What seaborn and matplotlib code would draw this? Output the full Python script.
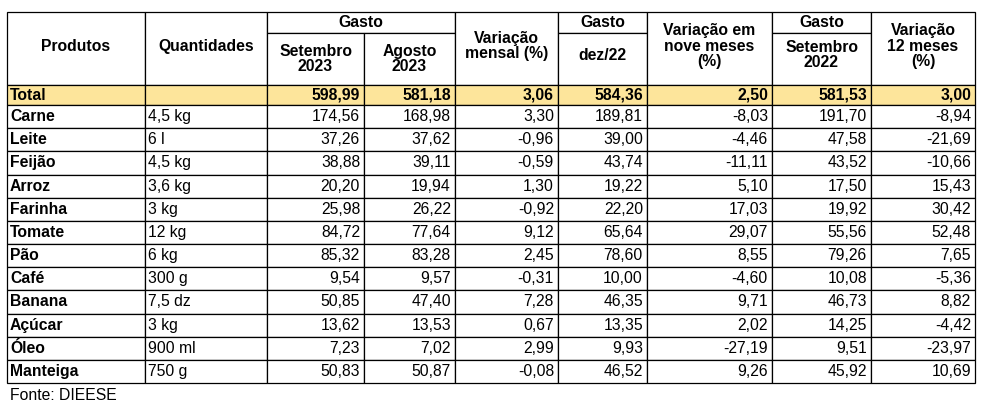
import matplotlib
matplotlib.use("Agg")
import matplotlib.pyplot as plt
import seaborn as sns
from matplotlib.patches import Rectangle

sns.set_theme(style="white")
plt.rcParams["font.family"] = "Liberation Sans"

produtos = ["Carne", "Leite", "Feijão", "Arroz", "Farinha", "Tomate", "Pão", "Café",
            "Banana", "Açúcar", "Óleo", "Manteiga"]
quantidades = ["4,5 kg", "6 l", "4,5 kg", "3,6 kg", "3 kg", "12 kg", "6 kg", "300 g",
               "7,5 dz", "3 kg", "900 ml", "750 g"]
set23 = ["174,56", "37,26", "38,88", "20,20", "25,98", "84,72", "85,32", "9,54", "50,85", "13,62", "7,23", "50,83"]
ago23 = ["168,98", "37,62", "39,11", "19,94", "26,22", "77,64", "83,28", "9,57", "47,40", "13,53", "7,02", "50,87"]
var_mensal = ["3,30", "-0,96", "-0,59", "1,30", "-0,92", "9,12", "2,45", "-0,31", "7,28", "0,67", "2,99", "-0,08"]
dez22 = ["189,81", "39,00", "43,74", "19,22", "22,20", "65,64", "78,60", "10,00", "46,35", "13,35", "9,93", "46,52"]
var_9m = ["-8,03", "-4,46", "-11,11", "5,10", "17,03", "29,07", "8,55", "-4,60", "9,71", "2,02", "-27,19", "9,26"]
set22 = ["191,70", "47,58", "43,52", "17,50", "19,92", "55,56", "79,26", "10,08", "46,73", "14,25", "9,51", "45,92"]
var_12m = ["-8,94", "-21,69", "-10,66", "15,43", "30,42", "52,48", "7,65", "-5,36", "8,82", "-4,42", "-23,97", "10,69"]
total = ["Total", "", "598,99", "581,18", "3,06", "584,36", "2,50", "581,53", "3,00"]

W, H = 984, 417
fig = plt.figure(figsize=(W / 100, H / 100), dpi=100)
ax = fig.add_axes([0, 0, 1, 1])
ax.set_xlim(0, W)
ax.set_ylim(H, 0)
ax.axis("off")

xs = [7, 145, 267, 364, 455, 558, 647, 772, 871, 975]
y0, y1, y2, y3 = 12, 33, 85, 105
ybot = 383
rh = (ybot - y3) / len(produtos)
lw = 0.9
fs = 11.3

def rect(x0, ya, x1, yb, fc="white"):
    ax.add_patch(Rectangle((x0, ya), x1 - x0, yb - ya, facecolor=fc, edgecolor="black", lw=lw))

def txt(x, y, s, ha="center", bold=True):
    ax.text(x, y, s, ha=ha, va="center", fontsize=fs, fontweight="bold" if bold else "normal",
            color="black", linespacing=1.05)

rect(xs[0], y0, xs[1], y2); txt((xs[0] + xs[1]) / 2, 46, "Produtos")
rect(xs[1], y0, xs[2], y2); txt((xs[1] + xs[2]) / 2, 46, "Quantidades")
rect(xs[2], y0, xs[4], y1); txt((xs[2] + xs[4]) / 2, 22, "Gasto")
rect(xs[2], y1, xs[3], y2); txt((xs[2] + xs[3]) / 2, 59, "Setembro\n2023")
rect(xs[3], y1, xs[4], y2); txt((xs[3] + xs[4]) / 2, 59, "Agosto\n2023")
rect(xs[4], y0, xs[5], y2); txt((xs[4] + xs[5]) / 2, 46, "Variação\nmensal (%)")
rect(xs[5], y0, xs[6], y1); txt((xs[5] + xs[6]) / 2, 22, "Gasto")
rect(xs[5], y1, xs[6], y2); txt((xs[5] + xs[6]) / 2, 55, "dez/22")
rect(xs[6], y0, xs[7], y2); txt((xs[6] + xs[7]) / 2, 46, "Variação em\nnove meses\n(%)")
rect(xs[7], y0, xs[8], y1); txt((xs[7] + xs[8]) / 2, 22, "Gasto")
rect(xs[7], y1, xs[8], y2); txt((xs[7] + xs[8]) / 2, 55, "Setembro\n2022")
rect(xs[8], y0, xs[9], y2); txt((xs[8] + xs[9]) / 2, 46, "Variação\n12 meses\n(%)")

for i in range(9):
    rect(xs[i], y2, xs[i + 1], y3, fc="#fde59b")
yc = (y2 + y3) / 2
txt(xs[0] + 3, yc, total[0], ha="left")
for i in range(2, 9):
    txt(xs[i + 1] - 4, yc, total[i], ha="right")

cols = [set23, ago23, var_mensal, dez22, var_9m, set22, var_12m]
for r, p in enumerate(produtos):
    ya = y3 + r * rh
    yb = ya + rh
    yc = (ya + yb) / 2
    for i in range(9):
        rect(xs[i], ya, xs[i + 1], yb)
    txt(xs[0] + 3, yc, p, ha="left")
    txt(xs[1] + 3, yc, quantidades[r], ha="left", bold=False)
    for j, c in enumerate(cols):
        txt(xs[j + 3] - 4, yc, c[r], ha="right", bold=False)

ax.text(xs[0] + 3, 395, "Fonte: DIEESE", ha="left", va="center", fontsize=fs, color="black")

fig.savefig("out.png", dpi=100)
